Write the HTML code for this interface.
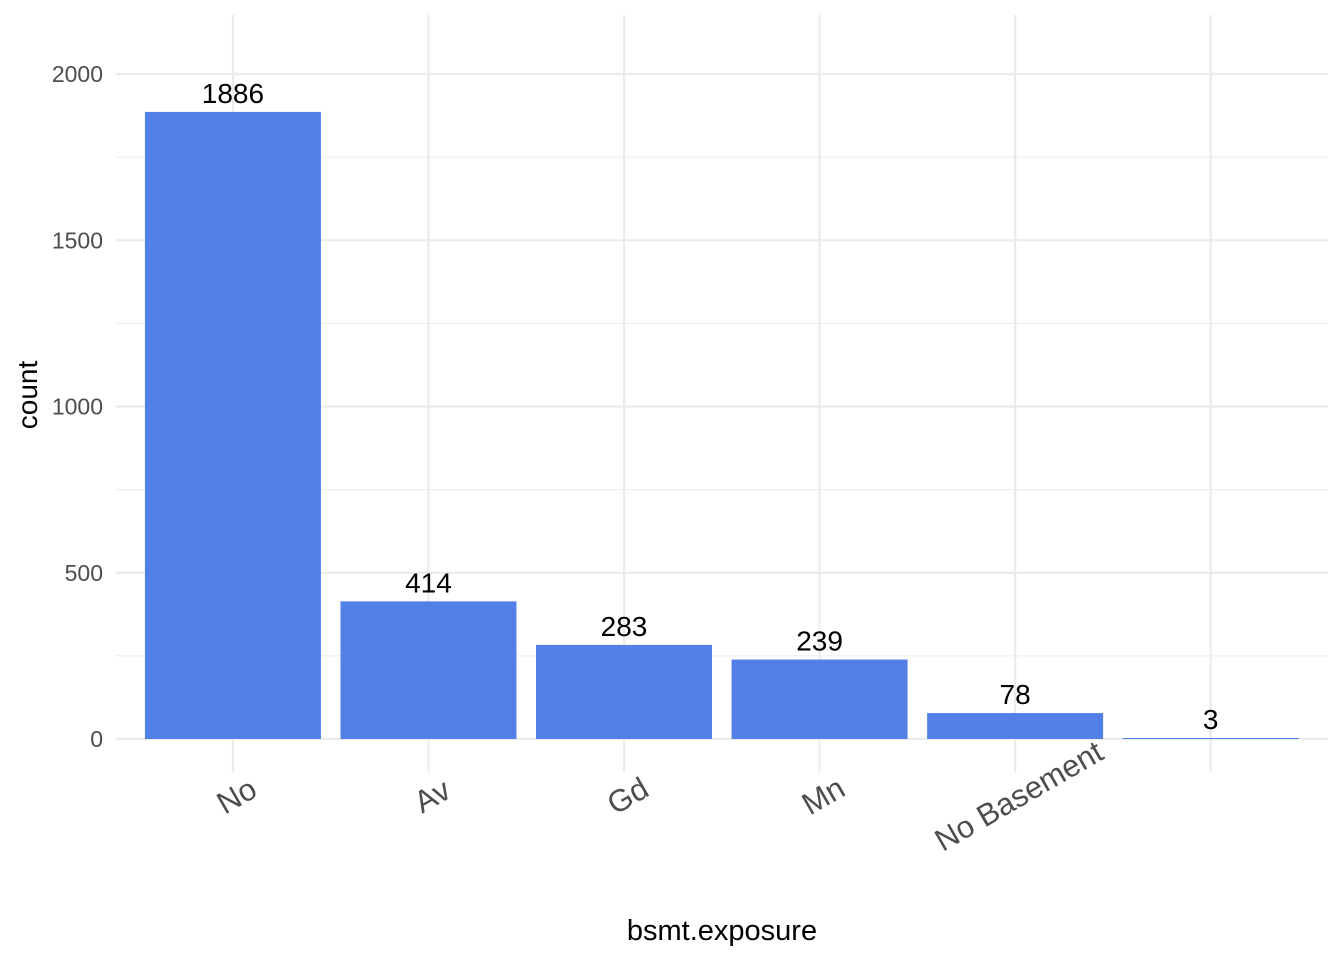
<!DOCTYPE html>
<html><head><meta charset="utf-8"><style>
html,body{margin:0;padding:0;background:#fff;}
svg{display:block;font-family:"Liberation Sans",Arial,sans-serif;}
</style></head><body>
<svg id="chart" width="1344" height="960" xmlns="http://www.w3.org/2000/svg">
<g id="grid"></g>
<g id="bars"></g>
<g id="labels"></g>
<g id="yticks"></g>
<g id="xticks"></g>
<text x="722" y="940" font-size="29" text-anchor="middle" fill="#000">bsmt.exposure</text>
<text x="0" y="0" font-size="28" text-anchor="middle" fill="#000" transform="translate(37,395) rotate(-90)">count</text>
</svg>
<script>
const categories = ["No","Av","Gd","Mn","No Basement",""];
const counts = [1886,414,283,239,78,3];
const yTicks = [0,500,1000,1500,2000];
const yMinor = [250,750,1250,1750];

const NS="http://www.w3.org/2000/svg";
const panelL=115.6, panelR=1328, panelT=15, y0=739, y2000=74;
const step=(panelR-panelL)/(categories.length+0.2);
function x(i){return panelL+step*(0.6+i);}
function y(v){return y0-(y0-y2000)*v/2000;}
const bw=step*0.9;
function el(tag,attrs,parent){const e=document.createElementNS(NS,tag);for(const k in attrs)e.setAttribute(k,attrs[k]);parent.appendChild(e);return e;}
const grid=document.getElementById('grid');
yMinor.forEach(v=>{const l=el('line',{x1:panelL,x2:panelR,y1:y(v),y2:y(v),stroke:'#ebebeb','stroke-width':1.1},grid);

});
yTicks.forEach(v=>{const l=el('line',{x1:panelL,x2:panelR,y1:y(v),y2:y(v),stroke:'#ebebeb','stroke-width':2.2},grid);

});
categories.forEach((c,i)=>{const l=el('line',{x1:x(i),x2:x(i),y1:panelT,y2:772,stroke:'#ebebeb','stroke-width':2.2},grid);

});
const bars=document.getElementById('bars'), labels=document.getElementById('labels');
counts.forEach((v,i)=>{
 const r=el('rect',{x:x(i)-bw/2,y:y(v),width:bw,height:Math.max(y0-y(v),1),fill:'#5280e6'},bars);
 
 
 const t=el('text',{x:x(i),y:y(v)-9,'font-size':28,'text-anchor':'middle',fill:'#000'},labels);
 t.textContent=v;
 
 
});
const yt=document.getElementById('yticks');
yTicks.forEach(v=>{const t=el('text',{x:103,y:y(v)+8,'font-size':23,'text-anchor':'end',fill:'#4d4d4d'},yt);t.textContent=v;

});
const xt=document.getElementById('xticks');
categories.forEach((c,i)=>{const cx=x(i)+9, cy=805;
 const t=el('text',{x:0,y:0,'font-size':31,'text-anchor':'middle',fill:'#4d4d4d',transform:`translate(${cx},${cy}) rotate(-30)`},xt);
 t.textContent=c;
 
 });
</script>
</body></html>
